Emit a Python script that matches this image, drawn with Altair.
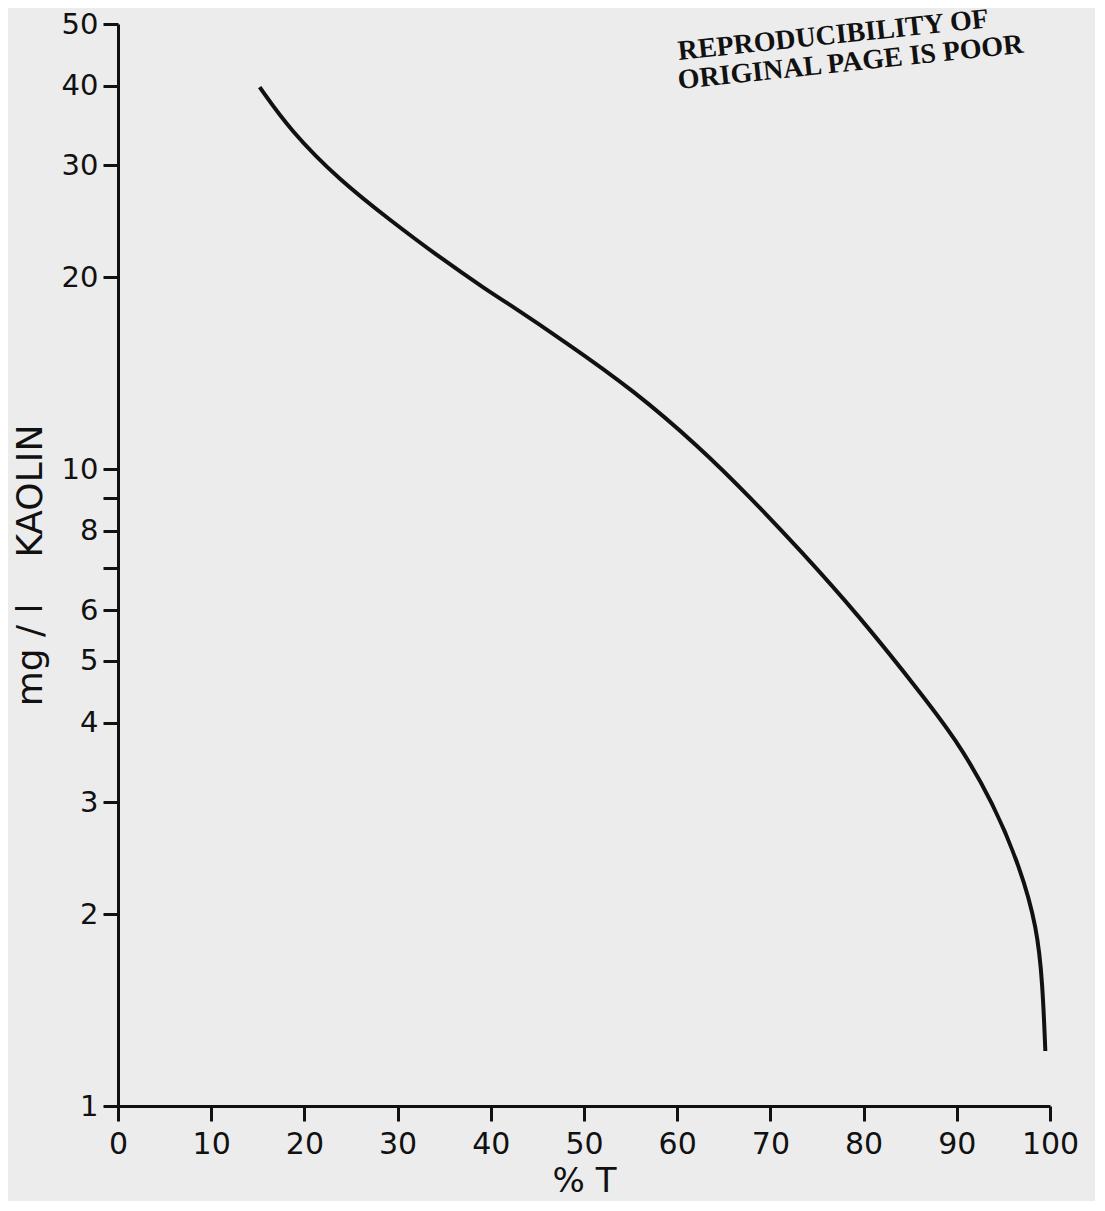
import altair as alt
import pandas as pd

# % transmission vs kaolin concentration (mg/l)
pct_t = [15.2, 18.5, 23.8, 29.2, 34.5, 39.9, 41.0, 48.2, 55.3, 62.4, 67.8,
         73.2, 79.6, 85.3, 90.0, 93.9, 96.8, 98.6, 99.2, 99.5]
kaolin = [39.8, 34.0, 28.4, 24.6, 21.5, 18.97, 18.55, 15.77, 13.3, 10.83, 9.04,
          7.46, 5.86, 4.61, 3.76, 2.99, 2.37, 1.91, 1.56, 1.22]

x_ticks = [0, 10, 20, 30, 40, 50, 60, 70, 80, 90, 100]
y_ticks = [1, 2, 3, 4, 5, 6, 7, 8, 9, 10, 20, 30, 40, 50]
y_unlabeled = [7, 9]

stamp_lines = ["REPRODUCIBILITY OF", "ORIGINAL PAGE IS POOR"]

df = pd.DataFrame({"T": pct_t, "K": kaolin})

INK = "#111111"
FONT = "DejaVu Sans"

line = alt.Chart(df).mark_line(
    color=INK, strokeWidth=4, interpolate="basis"
).encode(
    x=alt.X(
        "T:Q",
        scale=alt.Scale(domain=[0, 100], nice=False, zero=False),
        axis=alt.Axis(
            values=x_ticks, title="% T", format="d",
            labelFontSize=30, titleFontSize=34, titlePadding=5,
            labelPadding=8, labelFlush=False,
        ),
    ),
    y=alt.Y(
        "K:Q",
        scale=alt.Scale(type="log", domain=[1, 50], nice=False),
        axis=alt.Axis(
            values=y_ticks, format="d",
            labelExpr="indexof(" + str(y_unlabeled) + ", datum.value) >= 0 ? '' : datum.label",
            title="mg / l\u00a0\u00a0\u00a0\u00a0KAOLIN",
            labelFontSize=29, titleFontSize=36, titlePadding=12,
            labelPadding=5, labelFlush=False,
        ),
    ),
)

stamp1 = alt.Chart(pd.DataFrame({"t": [stamp_lines[0]]})).mark_text(
    font="Liberation Serif", fontWeight="bold", fontSize=28, color=INK,
    align="left", baseline="middle", angle=354,
).encode(text="t:N", x=alt.value(560), y=alt.value(28))

stamp2 = alt.Chart(pd.DataFrame({"t": [stamp_lines[1]]})).mark_text(
    font="Liberation Serif", fontWeight="bold", fontSize=28, color=INK,
    align="left", baseline="middle", angle=354,
).encode(text="t:N", x=alt.value(560), y=alt.value(57))

chart = alt.layer(line, stamp1, stamp2).properties(
    width=932,
    height=1082,
    padding={"left": 110, "top": 16, "right": 45, "bottom": 95},
    autosize=alt.AutoSizeParams(type="none"),
    background="#ececec",
).configure_view(stroke=None).configure_axis(
    domainColor=INK, domainWidth=3, tickColor=INK, tickWidth=3, tickSize=15,
    labelColor=INK, titleColor=INK, labelFont=FONT, titleFont=FONT,
    titleFontWeight="normal", grid=False,
)

chart.save("out.html", embed_options={"renderer": "svg", "actions": False})
